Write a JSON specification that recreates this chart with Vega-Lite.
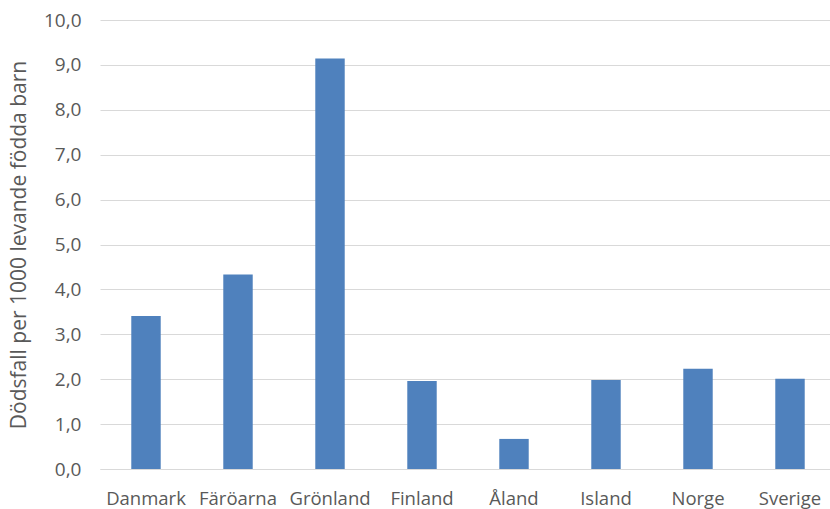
{
  "$schema": "https://vega.github.io/schema/vega-lite/v6.json",
  "autosize": {"type": "none"},
  "padding": {"left": 100, "top": 20, "right": 0, "bottom": 40},
  "width": 736,
  "height": 449,
  "background": "white",
  "data": {"values": [
    {"land": "Danmark", "varde": 3.41},
    {"land": "Färöarna", "varde": 4.33},
    {"land": "Grönland", "varde": 9.14},
    {"land": "Finland", "varde": 1.96},
    {"land": "Åland", "varde": 0.67},
    {"land": "Island", "varde": 1.98},
    {"land": "Norge", "varde": 2.23},
    {"land": "Sverige", "varde": 2.01}
  ]},
  "mark": {"type": "bar", "color": "#4F81BD"},
  "encoding": {
    "x": {
      "field": "land", "type": "nominal", "sort": null,
      "scale": {"paddingInner": 0.68, "paddingOuter": 0.34},
      "axis": {"title": null, "labelAngle": 0, "ticks": false, "domain": true, "domainColor": "#d9d9d9", "domainWidth": 1,
        "labelFont": "Open Sans", "labelFontSize": 18.5, "labelColor": "#595959", "labelPadding": 20}
    },
    "y": {
      "field": "varde", "type": "quantitative",
      "scale": {"domain": [0, 10], "nice": false},
      "axis": {"title": "Dödsfall per 1000 levande födda barn", "values": [0,1,2,3,4,5,6,7,8,9,10],
        "labelExpr": "replace(format(datum.value, '.1f'), '.', ',')",
        "ticks": false, "domain": false, "gridColor": "#d9d9d9", "gridWidth": 1,
        "labelFont": "Open Sans", "labelFontSize": 19, "labelColor": "#595959", "labelPadding": 19,
        "titleFont": "Open Sans", "titleFontSize": 21, "titleFontWeight": "normal", "titleColor": "#595959", "titlePadding": 14}
    }
  },
  "config": {"view": {"stroke": null}}
}
